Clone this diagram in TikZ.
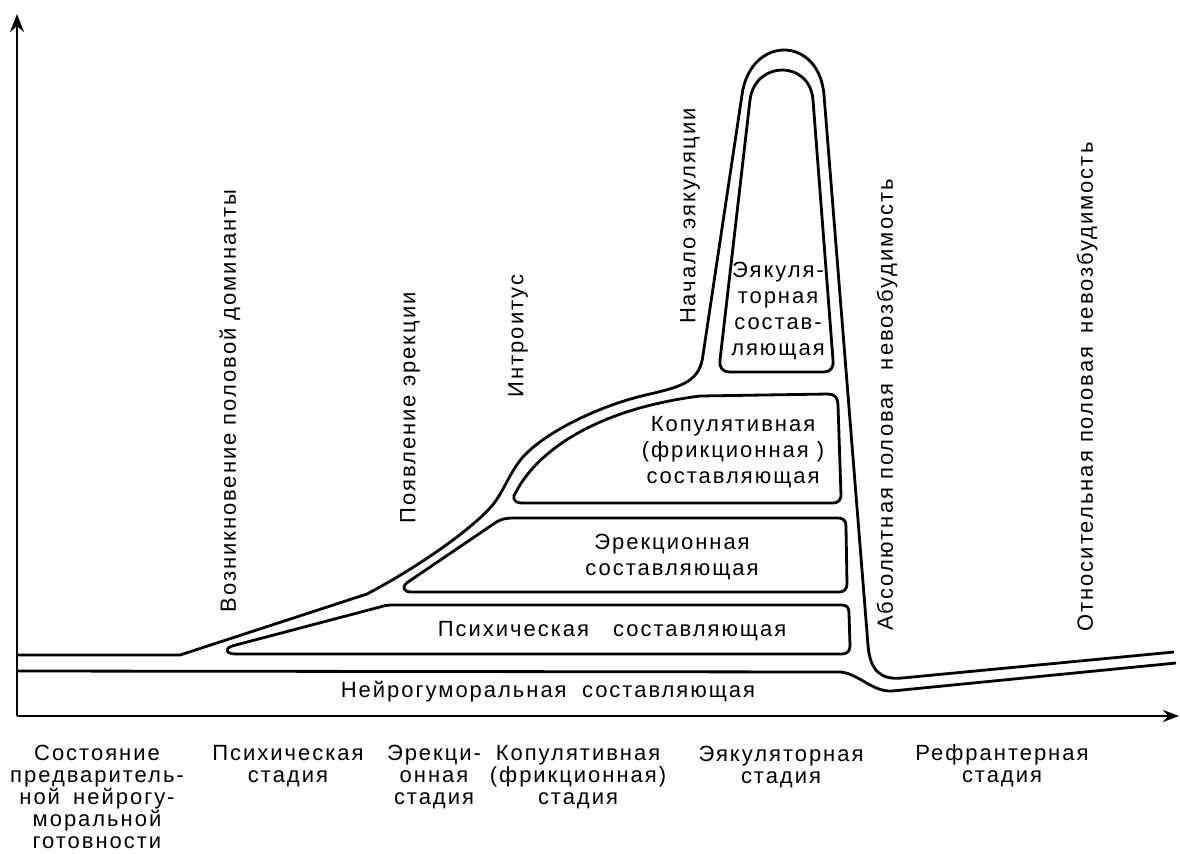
\documentclass[tikz,border=0pt]{standalone}
\usepackage{fontspec}
\setmainfont{Liberation Sans}[LetterSpace=9]
\usetikzlibrary{arrows.meta}
\begin{document}
\begin{tikzpicture}[x=0.5pt,y=-0.5pt,
  ln/.style={line width=1.4pt,line join=round},
  axisline/.style={line width=1.3pt},
  lab/.style={font=\fontsize{11}{12.9}\selectfont,align=center,inner sep=0pt},
  vlab/.style={lab,rotate=90},
  stagelab/.style={font=\fontsize{11}{11}\selectfont,align=center,inner sep=0pt,anchor=north}]
\useasboundingbox (0,0) rectangle (1180,853);
% axes
\coordinate (O) at (17,716);
\coordinate (Ytop) at (17,14);
\coordinate (Xend) at (1179,716);
\draw[axisline,-{Stealth[length=9pt,width=7pt]}] (O) -- (Ytop);
\draw[axisline,-{Stealth[length=8pt,width=6pt]}] (O) -- (Xend);
% outer envelope
\draw[ln] (17,655) -- (180,655) -- (367,594)
  .. controls (420,566) and (470,530) .. (490,508)
  .. controls (503,494) and (508,475) .. (522,458)
  .. controls (545,432) and (600,405) .. (650,394)
  .. controls (685,386) and (700,380) .. (703,355)
  -- (742,95) .. controls (750,35) and (819,35) .. (824,95)
  -- (868,645) .. controls (870,672) and (882,680) .. (902,678)
  -- (1174,652);
% bottom line of the neurohumoral band
\draw[ln] (17,671) -- (840,672) .. controls (858,673) and (872,692) .. (892,691) -- (1176,663);
% psychic box
\draw[ln] (236,654) .. controls (226,654) and (224,649) .. (232,646) -- (380,607)
  .. controls (386,605) and (390,605) .. (395,605) -- (842,605)
  .. controls (847,605) and (849,608) .. (849,613) -- (850,646)
  .. controls (850,651) and (847,654) .. (842,654) -- cycle;
% erection box
\draw[ln] (412,592) .. controls (403,592) and (401,587) .. (408,582) -- (492,525)
  .. controls (500,519) and (505,518) .. (515,518) -- (838,518)
  .. controls (844,518) and (846,521) .. (846,527) -- (847,584)
  .. controls (847,589) and (844,592) .. (839,592) -- cycle;
% copulative box
\draw[ln] (522,503) .. controls (513,503) and (512,497) .. (516,492)
  .. controls (535,455) and (590,410) .. (700,396) -- (828,394)
  .. controls (835,394) and (838,398) .. (838,405) -- (841,495)
  .. controls (841,500) and (838,503) .. (833,503) -- cycle;
% ejaculatory box
\draw[ln] (720,360) -- (750,100) .. controls (755,60) and (810,60) .. (813,100)
  -- (833,360) .. controls (834,368) and (830,372) .. (824,372) -- (730,372)
  .. controls (722,372) and (719,367) .. (720,360) -- cycle;
% labels in the bands
\node[lab] (neuro) at (548,692) {Нейрогуморальная\hspace{0.7em}составляющая};
\node[lab] (psy) at (612,631) {Психическая\hspace{1.1em}составляющая};
\node[lab] (ere) at (672,557) {Эрекционная\\составляющая};
\node[lab] (cop) at (733,452) {Копулятивная\\(фрикционная )\\составляющая};
\node[lab] (eja) at (778,311) {Эякуля-\\торная\\состав-\\ляющая};
% vertical event labels
\node[vlab] (t1) at (230,401) {Возникновение половой доминанты};
\node[vlab] (t2) at (410,408) {Появление эрекции};
\node[vlab] (t3) at (518,336) {Интроитус};
\node[vlab] (t4) at (690,216) {Начало эякуляции};
\node[vlab] (t5) at (887,405) {Абсолютная половая\hspace{0.6em}невозбудимость};
\node[vlab] (t6) at (1087,387) {Относительная половая\hspace{0.6em}невозбудимость};
% stage labels
\node[stagelab] (s1) at (97,745) {Состояние\\предваритель-\\ной\hspace{0.6em}нейрогу-\\моральной\\готовности};
\node[stagelab] (s2) at (288,745) {Психическая\\стадия};
\node[stagelab] (s3) at (434,745) {Эрекци-\\онная\\стадия};
\node[stagelab] (s4) at (578,745) {Копулятивная\\(фрикционная)\\стадия};
\node[stagelab] (s5) at (781,746) {Эякуляторная\\стадия};
\node[stagelab] (s6) at (1002,744) {Рефрантерная\\стадия};
\end{tikzpicture}
\end{document}
